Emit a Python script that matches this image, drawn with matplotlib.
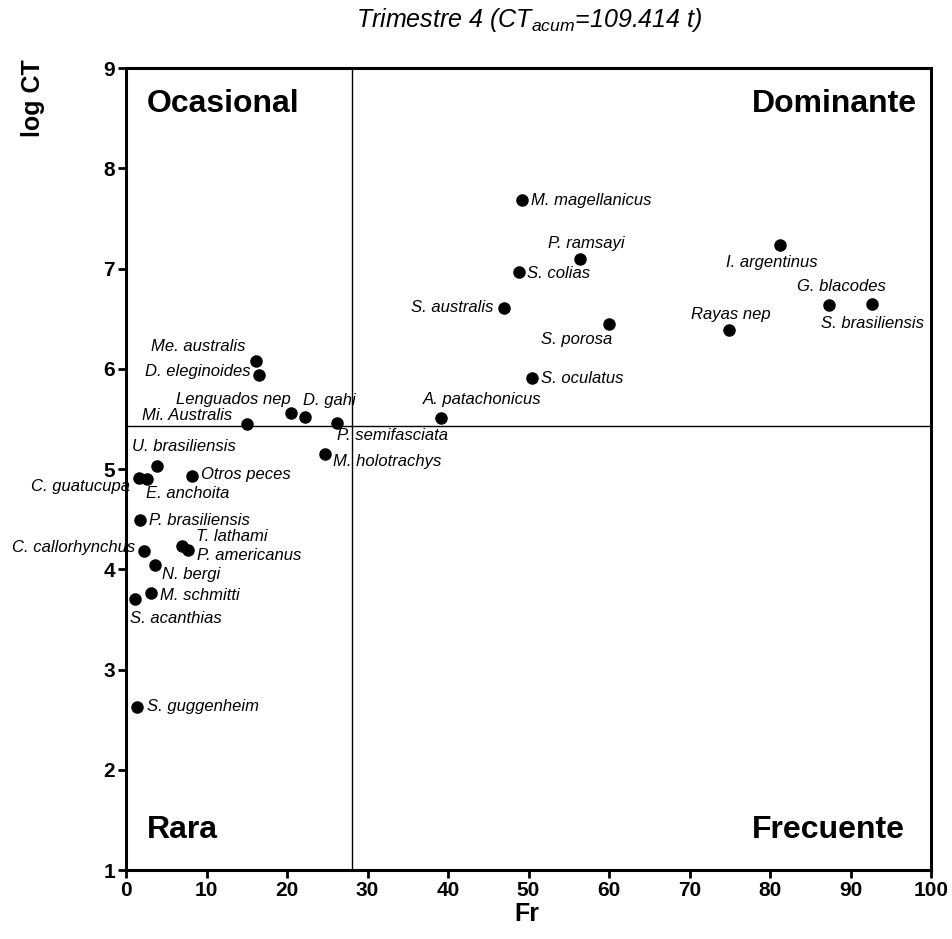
import matplotlib
matplotlib.use("Agg")
import matplotlib.pyplot as plt

plt.rcParams['font.family'] = ['Liberation Sans', 'DejaVu Sans']
plt.rcParams['mathtext.fontset'] = 'custom'
plt.rcParams['mathtext.it'] = 'Liberation Sans:italic'
plt.rcParams['mathtext.rm'] = 'Liberation Sans:italic'

# species, frecuencia relativa (Fr) y log de captura total
especies = [
    "M. magellanicus", "P. ramsayi", "S. colias", "S. australis", "S. porosa",
    "S. oculatus", "A. patachonicus", "I. argentinus", "G. blacodes",
    "S. brasiliensis", "Rayas nep",
    "Me. australis", "D. eleginoides", "Lenguados nep", "D. gahi",
    "Mi. Australis", "P. semifasciata", "M. holotrachys", "U. brasiliensis",
    "C. guatucupa", "E. anchoita", "Otros peces", "P. brasiliensis",
    "C. callorhynchus", "T. lathami", "P. americanus", "N. bergi",
    "M. schmitti", "S. acanthias", "S. guggenheim",
]
fr = [
    49.2, 56.4, 48.8, 47.0, 60.0,
    50.4, 39.1, 81.3, 87.3,
    92.7, 74.9,
    16.2, 16.5, 20.5, 22.2,
    15.0, 26.2, 24.7, 3.9,
    1.6, 2.6, 8.2, 1.7,
    2.2, 7.0, 7.7, 3.65,
    3.1, 1.1, 1.35,
]
log_ct = [
    7.68, 7.09, 6.97, 6.61, 6.45,
    5.91, 5.51, 7.23, 6.64,
    6.645, 6.39,
    6.08, 5.94, 5.56, 5.52,
    5.45, 5.46, 5.15, 5.03,
    4.915, 4.905, 4.93, 4.49,
    4.18, 4.23, 4.19, 4.04,
    3.76, 3.70, 2.63,
]

# umbrales de Olmstead-Tukey
fr_umbral = 28.1
ct_umbral = 5.43

# posicion de cada etiqueta respecto al punto (px), alineacion horizontal
etiquetas = {
    "M. magellanicus": (9, 0, 'left'),
    "P. ramsayi": (6, 16, 'center'),
    "S. colias": (8, -2, 'left'),
    "S. australis": (-11, 0, 'right'),
    "S. porosa": (3, -16, 'right'),
    "S. oculatus": (9, -1, 'left'),
    "A. patachonicus": (-18, 18, 'left'),
    "I. argentinus": (-9, -17, 'center'),
    "G. blacodes": (13, 18, 'center'),
    "S. brasiliensis": (0, -19, 'center'),
    "Rayas nep": (2, 15, 'center'),
    "Me. australis": (-11, 14, 'right'),
    "D. eleginoides": (-8, 3, 'right'),
    "Lenguados nep": (0, 13, 'right'),
    "D. gahi": (-2, 16, 'left'),
    "Mi. Australis": (-15, 8, 'right'),
    "P. semifasciata": (0, -13, 'left'),
    "M. holotrachys": (8, -8, 'left'),
    "U. brasiliensis": (27, 19, 'center'),
    "C. guatucupa": (-9, -9, 'right'),
    "E. anchoita": (-1, -15, 'left'),
    "Otros peces": (9, 2, 'left'),
    "P. brasiliensis": (9, 0, 'left'),
    "C. callorhynchus": (-8, 4, 'right'),
    "T. lathami": (14, 10, 'left'),
    "P. americanus": (9, -5, 'left'),
    "N. bergi": (7, -9, 'left'),
    "M. schmitti": (9, -2, 'left'),
    "S. acanthias": (-5, -19, 'left'),
    "S. guggenheim": (10, 0, 'left'),
}

fig = plt.figure(figsize=(9.52, 9.39), dpi=100)
ax = fig.add_axes([126 / 952, 1 - 870 / 939, 805 / 952, 802 / 939])

ax.axvline(fr_umbral, color='black', lw=1.0, zorder=1)
ax.axhline(ct_umbral, color='black', lw=1.0, zorder=1)
ax.scatter(fr, log_ct, s=64, color='black', zorder=3, clip_on=False)

for nombre, x, y in zip(especies, fr, log_ct):
    dx, dy, ha = etiquetas[nombre]
    ax.annotate(nombre, (x, y), xytext=(dx * 0.72, dy * 0.72),
                textcoords='offset points', ha=ha, va='center',
                fontsize=12, style='italic', annotation_clip=False)

ax.text(2.6, 8.64, "Ocasional", fontsize=23, fontweight='bold', va='center')
ax.text(98.2, 8.64, "Dominante", fontsize=23, fontweight='bold', va='center', ha='right')
ax.text(2.6, 1.4, "Rara", fontsize=23, fontweight='bold', va='center')
ax.text(96.7, 1.4, "Frecuente", fontsize=23, fontweight='bold', va='center', ha='right')

ax.set_xlim(0, 100)
ax.set_ylim(1, 9)
ax.set_xticks(range(0, 101, 10))
ax.set_yticks(range(1, 10))
ax.tick_params(direction='out', length=6, width=2, labelsize=15, pad=2)
for lab in ax.get_xticklabels() + ax.get_yticklabels():
    lab.set_fontweight('bold')
for s in ax.spines.values():
    s.set_linewidth(2.2)

fig.text(527 / 952, 1 - 914 / 939, "Fr", fontsize=18, fontweight='bold',
         ha='center', va='center')
fig.text(33 / 952, 1 - 98 / 939, "log CT", fontsize=18, fontweight='bold',
         rotation=90, ha='center', va='center')
fig.text(529 / 952, 1 - 27 / 939, r"Trimestre 4 (CT$_{acum}$=109.414 t)",
         fontsize=18, style='italic', ha='center', va='baseline')

fig.savefig("out.png", dpi=100)
